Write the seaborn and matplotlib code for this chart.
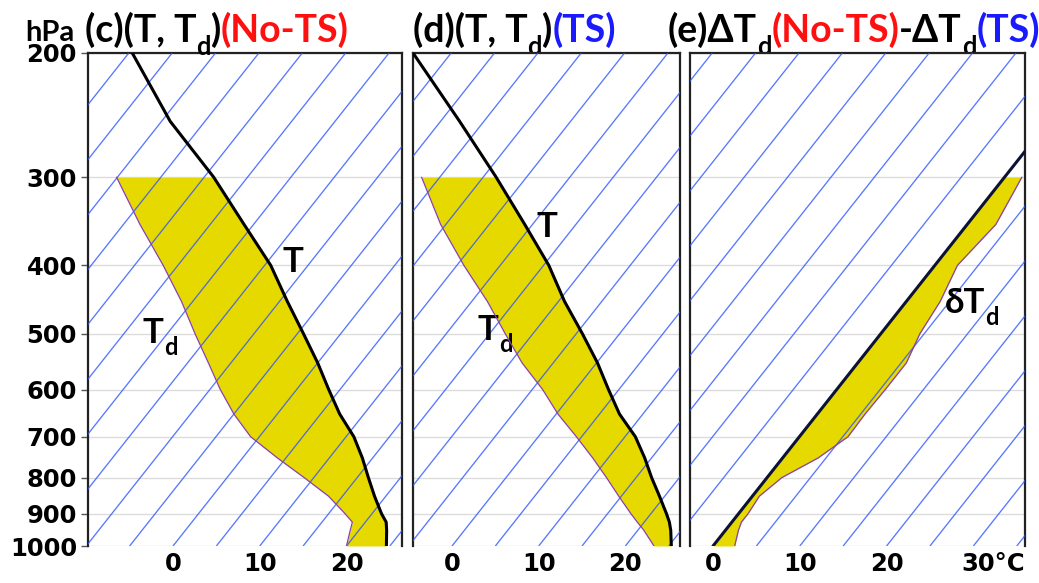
import numpy as np
import pandas as pd
import matplotlib
matplotlib.use("Agg")
import matplotlib.pyplot as plt
from matplotlib.ticker import NullLocator, FixedLocator
import matplotlib.transforms as mtransforms
import seaborn as sns

# ---------------------------------------------------------------- data
# pressure levels (hPa)
p_levels = [1000, 950, 925, 900, 850, 800, 750, 700, 650, 600,
            550, 500, 450, 400, 350, 300, 250, 200]
p_moist = p_levels[:16]          # 1000 .. 300 hPa

# (c) No-TS run: temperature and dew point (deg C)
T_nots = [24.6, 23.2, 22.4, 21.1, 18.7, 16.3, 13.8, 10.9, 7.2, 3.7,
          0.0, -4.3, -9.1, -14.3, -21.1, -28.9, -39.0, -49.6]
Td_nots = [20.0, 19.0, 18.5, 16.9, 13.4, 8.9, 4.0, -1.0, -5.0, -8.8,
           -12.6, -16.8, -21.3, -26.7, -33.1, -40.1]

# (d) TS run: temperature and dew point (deg C)
T_ts = [25.3, 23.8, 22.9, 21.8, 19.4, 16.8, 14.2, 11.2, 7.3, 3.8,
        0.1, -4.3, -9.3, -14.4, -20.9, -28.5, -37.8, -49.4]
Td_ts = [23.3, 20.7, 19.2, 17.7, 14.7, 11.6, 8.2, 4.4, 0.2, -3.8,
         -8.6, -13.2, -18.2, -24.2, -30.6, -37.1]

# (e) difference of dew-point depression, No-TS minus TS (deg C)
dTd_diff = [2.5, 1.5, 1.1, 1.1, 0.8, 1.7, 4.1, 5.6, 5.5, 5.6,
            5.6, 4.5, 3.9, 2.6, 3.3, 2.0]

y_ticks = [200, 300, 400, 500, 600, 700, 800, 900, 1000]
x_ticks = [0, 10, 20]
x_ticks_e = [0, 10, 20, 30]
x_labels_e = ["0", "10", "20", "30°C"]

# ---------------------------------------------------------------- style
sns.set_style("white")
plt.rcParams["font.family"] = ["DejaVu Sans"]
TITLE_FONT = ["Lato", "DejaVu Sans"]
TITLE_SIZE = 27
LABEL_SIZE = 25

SKEW = 27.9            # deg C per unit of ln(1000/p)
FILL = "#e6d900"
ISO = "#2f55ff"
TD_COLOR = "#8a3fb0"
RED = "#ff1010"
BLUE = "#1a1aff"


def skew_x(t, p):
    """Horizontal position on a skew-T diagram."""
    return np.asarray(t, float) + SKEW * np.log(1000.0 / np.asarray(p, float))


W, H = 1039, 583
fig = plt.figure(figsize=(W / 100, H / 100), dpi=100)


def make_axes(left_px, right_px, xlim):
    ax = fig.add_axes([left_px / W, 1 - 546 / H, (right_px - left_px) / W, 493 / H])
    ax.set_yscale("log")
    ax.set_ylim(1000, 200)
    ax.set_xlim(*xlim)
    ax.yaxis.set_major_locator(FixedLocator(y_ticks))
    ax.yaxis.set_minor_locator(NullLocator())
    ax.grid(axis="y", color="#dcdcdc", lw=1.0, zorder=0)
    ax.set_axisbelow(True)
    for side in ("left", "right", "top"):
        ax.spines[side].set_color("#222222")
        ax.spines[side].set_linewidth(1.6)
    ax.spines["bottom"].set_visible(False)
    return ax


ax_c = make_axes(88, 402, (-9.8, 26.4))
ax_d = make_axes(413, 680, (-4.5, 26.3))
ax_e = make_axes(690, 1025, (-2.65, 35.95))


def isotherms(ax):
    pp = np.array([1000.0, 200.0])
    for t0 in range(-100, 50, 5):
        ax.plot(skew_x([t0, t0], pp), pp, color=ISO, lw=0.95, alpha=0.8,
                zorder=3, solid_capstyle="butt")


def sounding(ax, T, Td):
    ax.fill_betweenx(p_moist, skew_x(Td, p_moist), skew_x(T[:16], p_moist),
                     color=FILL, lw=0, zorder=2)
    isotherms(ax)
    df_t = pd.DataFrame({"x": skew_x(T, p_levels), "p": p_levels})
    df_td = pd.DataFrame({"x": skew_x(Td, p_moist), "p": p_moist})
    sns.lineplot(data=df_td, x="x", y="p", sort=False, estimator=None,
                 color=TD_COLOR, lw=0.9, ax=ax, zorder=4)
    sns.lineplot(data=df_t, x="x", y="p", sort=False, estimator=None,
                 color="black", lw=2.2, ax=ax, zorder=5)


sounding(ax_c, T_nots, Td_nots)
sounding(ax_d, T_ts, Td_ts)

# (e) difference panel: zero line is the 0 deg isotherm
zero = [0.0] * len(p_moist)
ax_e.fill_betweenx(p_moist, skew_x(zero, p_moist), skew_x(dTd_diff, p_moist),
                   color=FILL, lw=0, zorder=2)
isotherms(ax_e)
df_e = pd.DataFrame({"x": skew_x(dTd_diff, p_moist), "p": p_moist})
sns.lineplot(data=df_e, x="x", y="p", sort=False, estimator=None,
             color=TD_COLOR, lw=0.9, ax=ax_e, zorder=4)
pz = [1000, 200]
df_zero = pd.DataFrame({"x": skew_x([0, 0], pz), "p": pz})
sns.lineplot(data=df_zero, x="x", y="p", sort=False, estimator=None,
             color="#0b1235", lw=2.2, ax=ax_e, zorder=5)

# ---------------------------------------------------------------- ticks
tick_font = dict(fontsize=17.5, fontweight="bold", color="black")
for ax in (ax_c, ax_d, ax_e):
    ax.set_xlabel("")
    ax.set_ylabel("")
    ax.tick_params(axis="x", length=0, pad=4)
    ax.tick_params(axis="y", length=0)
ax_c.set_yticks(y_ticks)
ax_c.set_yticklabels([str(v) for v in y_ticks], **tick_font)
ax_c.tick_params(axis="y", length=5, width=1, color="#555555", pad=3, left=True)
for ax in (ax_d, ax_e):
    ax.set_yticklabels([])
for ax in (ax_c, ax_d):
    ax.set_xticks(x_ticks)
    ax.set_xticklabels([str(v) for v in x_ticks], **tick_font)
ax_e.set_xticks(x_ticks_e)
ax_e.set_xticklabels(x_labels_e, **tick_font)
last = ax_e.get_xticklabels()[-1]
last.set_transform(last.get_transform() +
                   mtransforms.ScaledTranslation(0.20, 0, fig.dpi_scale_trans))


# ---------------------------------------------------------------- rich text
def rich(ax, xy, coords, parts, size=TITLE_SIZE):
    """Draw consecutive text pieces; pieces flagged True are subscripts."""
    base = None
    prev = None
    for text, color, sub in parts:
        kw = dict(color=color, fontweight="bold", family=TITLE_FONT,
                  annotation_clip=False, ha="left")
        if prev is None:
            art = ax.annotate(text, xy=xy, xycoords=coords, fontsize=size,
                              va="baseline", **kw)
            base = art
        elif sub:
            art = ax.annotate(text, xy=(1, 0), xycoords=prev,
                              xytext=(0, -size * 0.28), textcoords="offset points",
                              fontsize=size * 0.68, va="bottom", **kw)
        else:
            art = ax.annotate(text, xy=(1, 0), xycoords=(prev, base),
                              fontsize=size, va="bottom", **kw)
            base = art
        prev = art
    return prev


K = "black"
rich(ax_c, (25 / W, 1 - 41 / H), "figure fraction", [("hPa", K, False)], size=21)
rich(ax_c, (85 / W, 1 - 42 / H), "figure fraction",
     [("(c)(T, T", K, False), ("d", K, True), (")", K, False),
      ("(No-TS)", RED, False)])
rich(ax_c, (413 / W, 1 - 42 / H), "figure fraction",
     [("(d)(T, T", K, False), ("d", K, True), (")", K, False),
      ("(TS)", BLUE, False)])
rich(ax_c, (668 / W, 1 - 42 / H), "figure fraction",
     [("(e)ΔT", K, False), ("d", K, True), ("(No-TS)", RED, False),
      ("-ΔT", K, False), ("d", K, True), ("(TS)", BLUE, False)])

# curve labels inside the panels
rich(ax_c, (0.621, 0.556), "axes fraction", [("T", K, False)], size=LABEL_SIZE)
rich(ax_c, (0.175, 0.412), "axes fraction", [("T", K, False), ("d", K, True)],
     size=LABEL_SIZE)
rich(ax_d, (0.464, 0.627), "axes fraction", [("T", K, False)], size=LABEL_SIZE)
rich(ax_d, (0.243, 0.418), "axes fraction", [("T", K, False), ("d", K, True)],
     size=LABEL_SIZE)
rich(ax_e, (0.761, 0.473), "axes fraction",
     [("δT", K, False), ("d", K, True)], size=LABEL_SIZE)

fig.savefig("out.png", dpi=100)
